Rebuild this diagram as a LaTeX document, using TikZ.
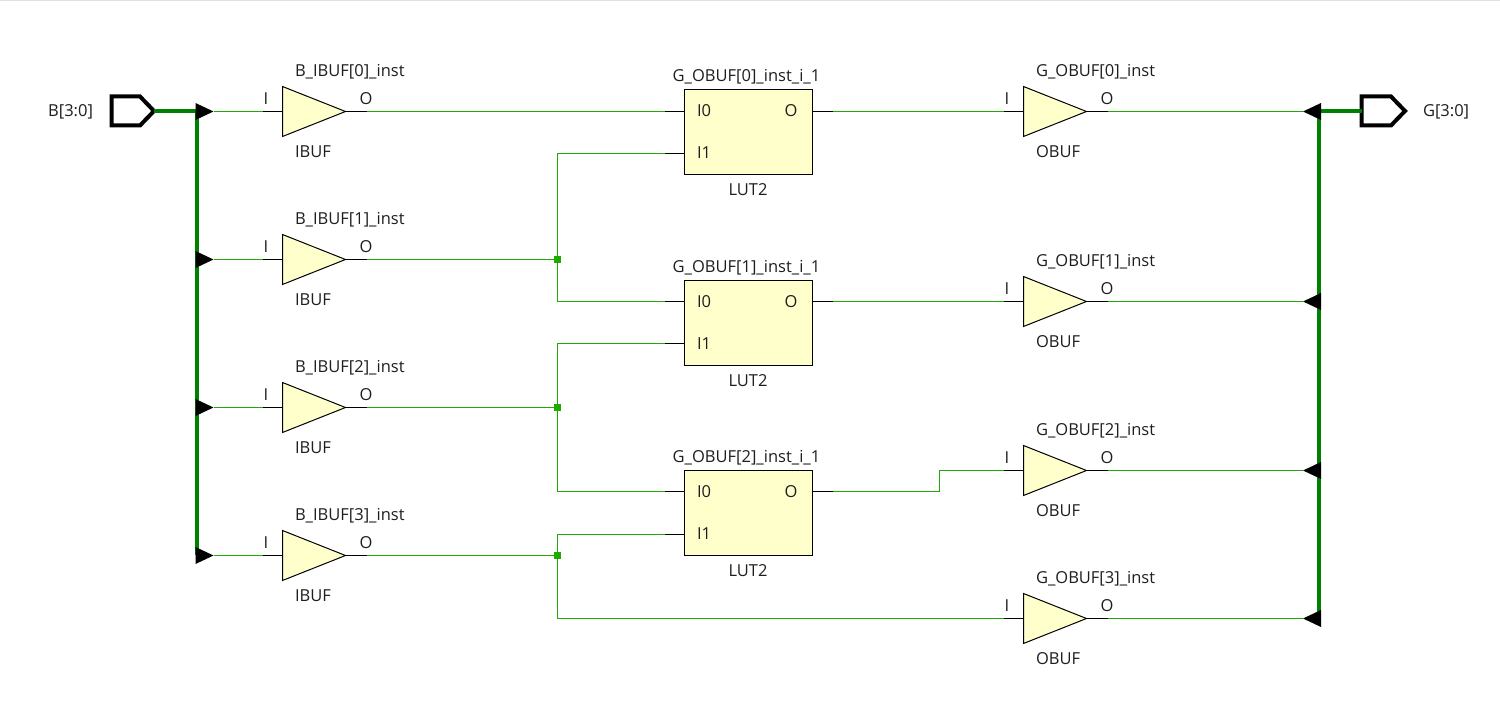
\documentclass[tikz,border=0pt]{standalone}
\usepackage{fontspec}
\setmainfont{Open Sans}
\usetikzlibrary{shapes.geometric}
\definecolor{wirec}{RGB}{30,170,0}
\definecolor{busc}{RGB}{0,128,0}
\definecolor{fillc}{RGB}{255,255,204}
\definecolor{textc}{RGB}{30,30,30}
\tikzset{
  x=0.5pt,y=-0.5pt,
  wire/.style={draw=wirec,line width=0.5pt},
  stub/.style={draw=black,line width=0.5pt},
  bus/.style={draw=busc,line width=2pt},
  portbox/.style={draw=black,line width=2pt,miter limit=4,fill=white},
  buf/.style={isosceles triangle,isosceles triangle stretches,draw=black,fill=fillc,line width=0.5pt,
     minimum width=25pt,minimum height=31.5pt,inner sep=0pt,outer sep=0pt,anchor=lower side},
  lut/.style={rectangle,draw=black,fill=fillc,line width=0.5pt,minimum width=64pt,minimum height=42.5pt,inner sep=0pt,outer sep=0pt,anchor=north west},
  tipr/.style={isosceles triangle,isosceles triangle stretches,fill=black,minimum width=8.5pt,minimum height=9pt,inner sep=0pt,outer sep=0pt,anchor=lower side},
  tipl/.style={tipr,shape border rotate=180,anchor=lower side},
  lab/.style={font=\fontsize{8.25pt}{10pt}\selectfont,text=textc,inner sep=0pt,outer sep=0pt},
  dot/.style={rectangle,fill=wirec,minimum size=3.5pt,inner sep=0pt,outer sep=0pt},
}
\newcommand{\bufcell}[5]{%
  \node[buf] (#1) at (#5,#2) {};
  \coordinate (#1i) at (#5-20,#2);
  \coordinate (#1o) at (#5+84,#2);
  \draw[stub] (#1i) -- (#1.lower side);
  \draw[stub] (#1.apex) -- (#1o);
  \node[lab,anchor=west] (#1name) at (#5+12.5,#2-39.75) {#3};
  \node[lab,anchor=west] (#1type) at (#5+12.5,#2+40.25) {#4};
  \node[lab] (#1pi) at (#5-16.5,#2-12.75) {I};
  \node[lab] (#1po) at (#5+83.5,#2-12.75) {O};
}
% #1 name, #2 top of box, #3 y of I0, #4 y of I1, #5 instance label
\newcommand{\lutcell}[5]{%
  \node[lut] (#1) at (684,#2) {};
  \coordinate (#1ia) at (664,#3);
  \coordinate (#1ib) at (664,#4);
  \coordinate (#1o) at (832,#3);
  \draw[stub] (#1ia) -- (684,#3);
  \draw[stub] (#1ib) -- (684,#4);
  \draw[stub] (812,#3) -- (#1o);
  \node[lab] (#1name) at (746,#2-13) {#5};
  \node[lab] (#1type) at (747.5,#2+100) {LUT2};
  \node[lab,anchor=west] (#1pa) at (696.5,#2+21.25) {I0};
  \node[lab,anchor=west] (#1pb) at (696.5,#2+63.25) {I1};
  \node[lab] (#1po) at (790.5,#2+21.25) {O};
}
\begin{document}
\begin{tikzpicture}
\useasboundingbox (0,0) rectangle (1500,705);
\fill[white] (0,0) rectangle (1500,705);
\draw[draw=black!12,line width=0.5pt] (0,0.5) -- (1500,0.5);
\begin{scope}[shift={(0.5,0.5)}]

% cells
\bufcell{ba}{111}{B\_IBUF[0]\_inst}{IBUF}{282}
\bufcell{bb}{259}{B\_IBUF[1]\_inst}{IBUF}{282}
\bufcell{bc}{407}{B\_IBUF[2]\_inst}{IBUF}{282}
\bufcell{bd}{555}{B\_IBUF[3]\_inst}{IBUF}{282}
\bufcell{ga}{111}{G\_OBUF[0]\_inst}{OBUF}{1023}
\bufcell{gb}{301}{G\_OBUF[1]\_inst}{OBUF}{1023}
\bufcell{gc}{470}{G\_OBUF[2]\_inst}{OBUF}{1023}
\bufcell{gd}{618}{G\_OBUF[3]\_inst}{OBUF}{1023}
\lutcell{la}{89}{111}{153}{G\_OBUF[0]\_inst\_i\_1}
\lutcell{lb}{280}{301}{343}{G\_OBUF[1]\_inst\_i\_1}
\lutcell{lc}{470}{491}{534}{G\_OBUF[2]\_inst\_i\_1}

% ports
\coordinate (pin) at (153.5,110.5);
\coordinate (pout) at (1361,110.5);
\draw[portbox] (111,96) -- (139.5,96) -- (153.5,110.5) -- (139.5,125) -- (111,125) -- cycle;
\draw[portbox] (1361,96) -- (1390.5,96) -- (1404.5,110.5) -- (1390.5,125) -- (1361,125) -- cycle;
\node[lab,anchor=east] (pinl) at (92.5,111.25) {B[3:0]};
\node[lab,anchor=west] (poutl) at (1422.5,111.25) {G[3:0]};

% buses
\coordinate (bl) at (196.5,111);
\coordinate (blb) at (196.5,555);
\coordinate (br) at (1318.5,111);
\coordinate (brb) at (1318.5,618);
\coordinate (blt) at (196.5,110.5);
\coordinate (brt) at (1318.5,110.5);
\draw[bus,line width=1.75pt] (pin) -- (blt);
\draw[bus,line width=1.75pt] (brt) -- (pout);
\draw[bus] (bl) -- (blb);
\draw[bus] (br) -- (brb);

% bus rippers
\node[tipr] (ra) at (195,111) {};
\node[tipr] (rb) at (195,259) {};
\node[tipr] (rc) at (195,407) {};
\node[tipr] (rd) at (195,555) {};
\node[tipl] (sa) at (1320.5,111) {};
\node[tipl] (sb) at (1320.5,301) {};
\node[tipl] (sc) at (1320.5,470) {};
\node[tipl] (sd) at (1320.5,618) {};

% junctions
\node[dot] (ja) at (557,259) {};
\node[dot] (jb) at (557,407) {};
\node[dot] (jc) at (557,555) {};

% wires
\draw[wire] (ra.apex) -- (bai);
\draw[wire] (rb.apex) -- (bbi);
\draw[wire] (rc.apex) -- (bci);
\draw[wire] (rd.apex) -- (bdi);
\draw[wire] (bao) -- (laia);
\draw[wire] (bbo) -- (ja.center);
\draw[wire] (bco) -- (jb.center);
\draw[wire] (bdo) -- (jc.center);
\draw[wire] (laib) -| (ja.center);
\draw[wire] (lbia) -| (ja.center);
\draw[wire] (lbib) -| (jb.center);
\draw[wire] (lcia) -| (jb.center);
\draw[wire] (lcib) -| (jc.center);
\draw[wire] (gdi) -| (jc.center);
\draw[wire] (lao) -- (gai);
\draw[wire] (lbo) -- (gbi);
\coordinate (bendx) at (938.5,470);
\draw[wire] (lco) -| (bendx) -- (gci);
\draw[wire] (gao) -- (sa.apex);
\draw[wire] (gbo) -- (sb.apex);
\draw[wire] (gco) -- (sc.apex);
\draw[wire] (gdo) -- (sd.apex);
\end{scope}
\end{tikzpicture}
\end{document}
